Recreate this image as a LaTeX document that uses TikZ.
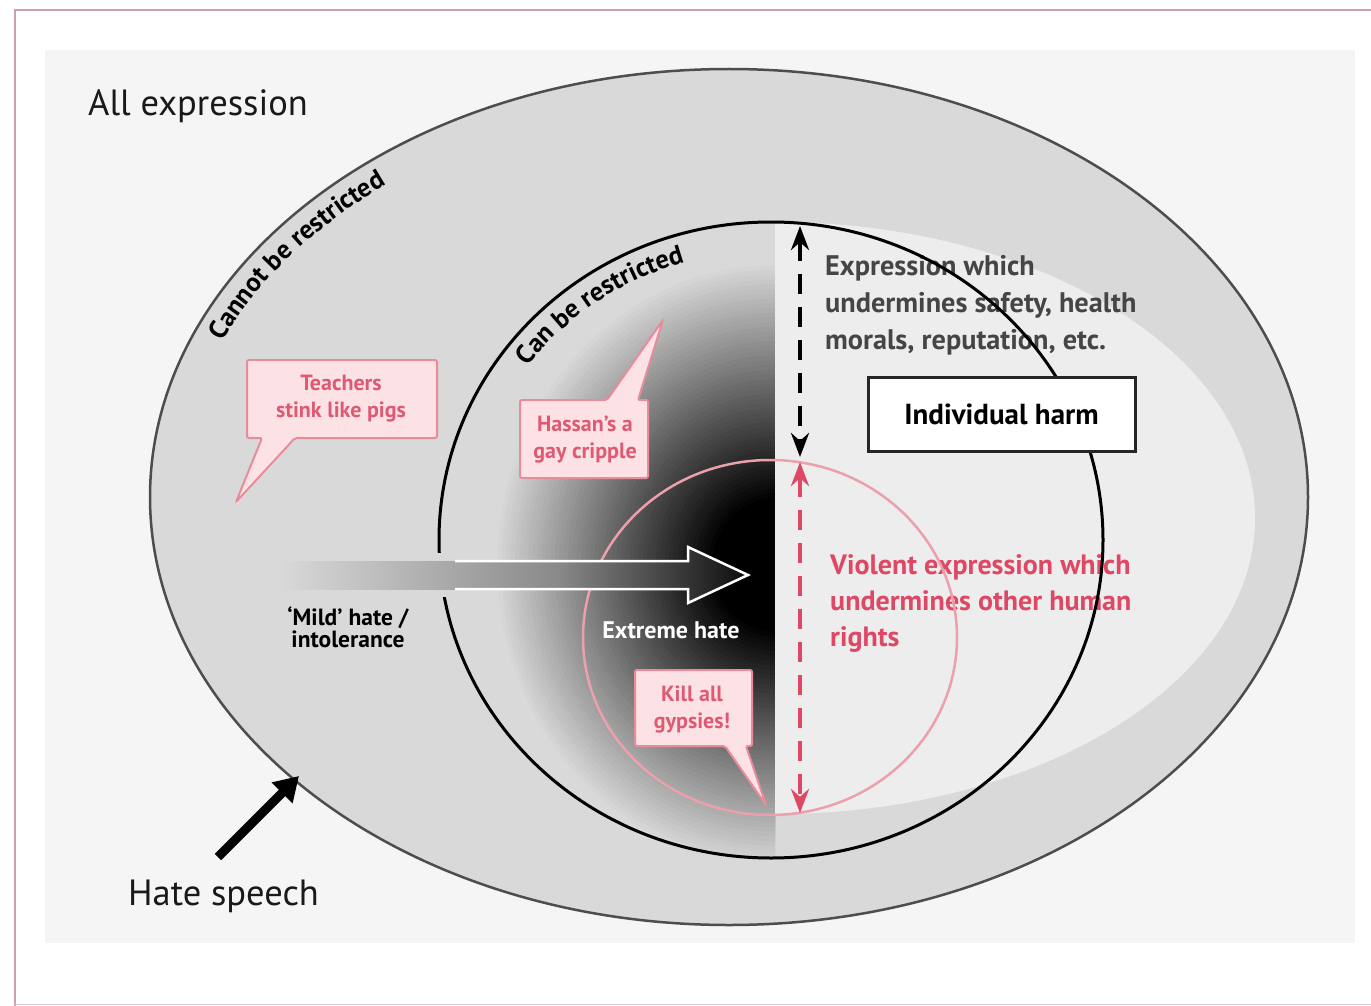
\documentclass[tikz,border=0pt]{standalone}
\usepackage{fontspec}
\setmainfont{PT Sans}
\usetikzlibrary{arrows.meta,decorations.text}
\definecolor{panelbg}{HTML}{F5F5F5}
\definecolor{ringgray}{HTML}{D9D9D9}
\definecolor{lightreg}{HTML}{EDEDED}
\definecolor{framepink}{RGB}{205,160,170}
\definecolor{bubblefill}{RGB}{252,226,229}
\definecolor{bubbleline}{RGB}{232,140,155}
\definecolor{bubbletext}{RGB}{222,90,115}
\definecolor{violred}{RGB}{222,72,100}
\definecolor{pinkcirc}{RGB}{235,160,172}
\definecolor{darktext}{HTML}{454545}
\definecolor{outerline}{HTML}{4D4D4D}
\definecolor{arrowmid}{HTML}{888888}
\newcommand\curvefont{\fontsize{26.5}{26.5}\selectfont\bfseries}
\begin{document}
\begin{tikzpicture}[x=1pt,y=-1pt,
  bubble/.style={fill=bubblefill, draw=bubbleline, line width=2, rounded corners=2},
  bubtext/.style={text=bubbletext, font=\bfseries\fontsize{22}{27}\selectfont, align=center, inner sep=0},
  bigtext/.style={font=\fontsize{36.5}{36.5}\selectfont, inner sep=0, text=black!90},
  exprtext/.style={text=darktext, font=\bfseries\fontsize{28.3}{37}\selectfont, align=left, inner sep=0},
  violtext/.style={text=violred, font=\bfseries\fontsize{28}{36}\selectfont, align=left, inner sep=0},
  dasharrow/.style={line width=4, dash pattern=on 20 off 13, {Stealth[length=24,width=18]}-{Stealth[length=24,width=18]}}
]
\useasboundingbox (0,0) rectangle (1371,1006);
\fill[white] (0,0) rectangle (1371,1006);
% frame
\draw[framepink, line width=1.2] (1371,10) -- (15,10) -- (15,1006);
\draw[framepink!60, line width=1] (15,1004) -- (1371,1004);
% panel
\fill[panelbg] (45,50) rectangle (1355,943);
% outer ellipse fill
\fill[ringgray] (729,497) ellipse [x radius=579, y radius=428];
% shaded left half of inner circle (concentric steps)
\begin{scope}
  \clip (0,0) rectangle (775,1006);
  \clip (771,540) ellipse [x radius=332, y radius=318];
  \foreach \i in {50,49,...,0}{
    \pgfmathsetmacro\rx{62+4.4*\i}
    \pgfmathsetmacro\ry{1.08*\rx}
    \pgfmathtruncatemacro\pct{2*\i}
    \fill[ringgray!\pct!black] (775,565) ellipse [x radius=\rx, y radius=\ry];
  }
\end{scope}
% light region on the right
\fill[lightreg] (775,222) arc[start angle=-90, end angle=90, x radius=480, y radius=296] -- cycle;
% texts under the circle lines
\node[exprtext, anchor=north west] (expr) at (825,255) {Expression which\\undermines safety, health\\morals, reputation, etc.};
\node[violtext, anchor=north west] (viol) at (830,554) {Violent expression which\\undermines other human\\rights};
% circle lines
\draw[outerline, line width=2.5] (729,497) ellipse [x radius=579, y radius=428];
\draw[black, line width=3] (771,540) ellipse [x radius=332, y radius=318];
\draw[pinkcirc, line width=2.5] (770,637.5) ellipse [x radius=187, y radius=177.5];
% individual harm box
\node[draw=black!85, line width=3, fill=white, minimum width=267, minimum height=74, inner sep=0,
      font=\bfseries\fontsize{29}{29}\selectfont] (harm) at (1001.5,414) {Individual harm};
% speech bubbles
\draw[bubble] (247,360) -- (437,360) -- (437,438) -- (295,438) -- (236,502) -- (262,438) -- (247,438) -- cycle;
\node[bubtext] (teach) at (341,399) {Teachers\\stink like pigs};
\draw[bubble] (520,400) -- (607,400) -- (663,320) -- (638,400) -- (648,400) -- (648,478) -- (520,478) -- cycle;
\node[bubtext] (hassan) at (585,440) {Hassan’s a\\gay cripple};
\draw[bubble] (635,670) -- (752,670) -- (752,746) -- (746,746) -- (766,805) -- (725,746) -- (635,746) -- cycle;
\node[bubtext] (kill) at (692,710) {Kill all\\gypsies!};
% big arrow (light halo where it crosses the inner circle line)
\fill[ringgray] (432,553) rectangle (452,597);
\shade[left color=ringgray, right color=arrowmid] (280,561) rectangle (561,589);
\shade[left color=arrowmid, right color=black!95] (560,561) -- (688,561) -- (688,547) -- (748,575) -- (688,603) -- (688,589) -- (560,589) -- cycle;
\draw[white, line width=2.5, line join=miter] (455,561) -- (688,561) -- (688,547) -- (748,575) -- (688,603) -- (688,589) -- (455,589);
\node[font=\bfseries\fontsize{23.5}{22}\selectfont, align=center, inner sep=0, text=black] (mild) at (348,627) {‘Mild’ hate /\\intolerance};
\node[font=\bfseries\fontsize{24}{24}\selectfont, inner sep=0, text=white] (extreme) at (671,630) {Extreme hate};
% dashed double arrows
\coordinate (kt) at (800,226);
\coordinate (kb) at (800,457);
\coordinate (pt) at (800,462);
\coordinate (pb) at (800,813);
\draw[dasharrow, black] (kt) -- (kb);
\draw[dasharrow, violred] (pt) -- (pb);
% curved labels
\begin{scope}[font=\curvefont]
\curvefont
\path[decorate, decoration={text along path, text={Cannot be restricted}, text align=center}]
  (729,497) ++(190:550 and 399) arc[start angle=190, end angle=242, x radius=550, y radius=399];
\path[decorate, decoration={text along path, text={Can be restricted}, text align=center}]
  (771,540) ++(206:304 and 290) arc[start angle=206, end angle=264, x radius=304, y radius=290];
\end{scope}
% big labels
\node[bigtext, anchor=base west] (allexp) at (88,116) {All expression};
\node[bigtext, anchor=base west] (hate) at (128,905) {Hate speech};
% hate speech arrow
\coordinate (hsa) at (218,857);
\coordinate (hsb) at (299,776);
\draw[line width=9, -{Triangle[length=24,width=28]}] (hsa) -- (hsb);
\end{tikzpicture}
\end{document}
